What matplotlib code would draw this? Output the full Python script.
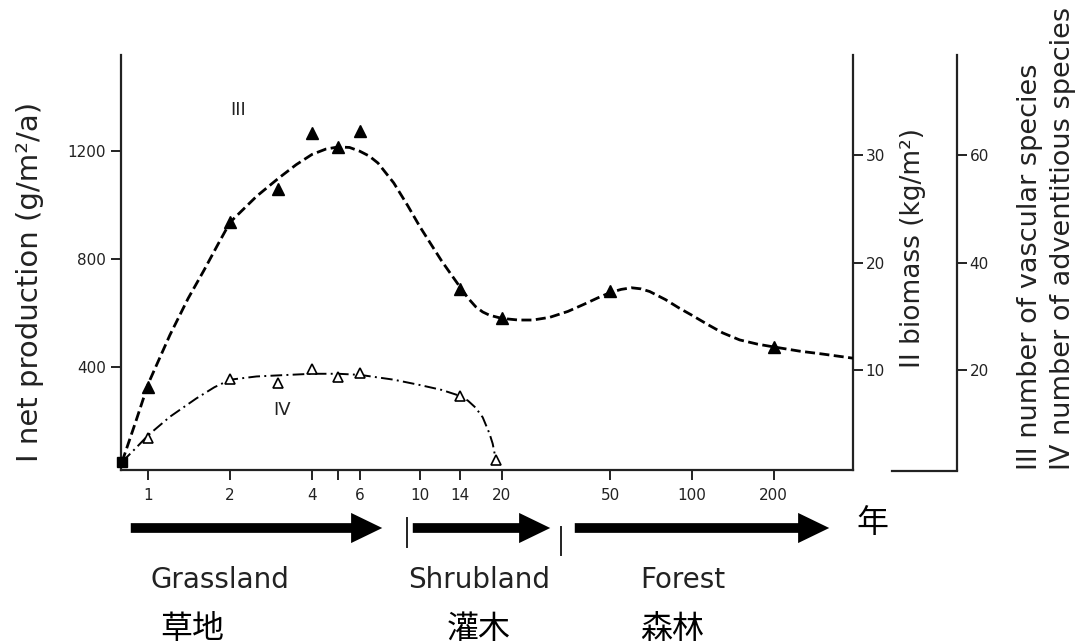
import matplotlib
matplotlib.use("Agg")
import matplotlib.pyplot as plt
from matplotlib.patches import FancyArrowPatch
from matplotlib.lines import Line2D

# Dati (anni su scala log, numero di specie)
years_iii = [1, 2, 3, 4, 5, 6, 14, 20, 50, 200]
species_iii = [16.8, 47.5, 53.7, 64.1, 61.5, 64.5, 35.1, 29.7, 34.7, 24.3]

years_iv = [1, 2, 3, 4, 5, 6, 14, 19]
species_iv = [7.4, 18.3, 17.6, 20.2, 18.7, 19.4, 15.2, 3.3]

start_year = [0.8]
start_species = [2.9]

# Curve tracciate a mano (lette punto per punto dal grafico)
curve_iii_x = [0.8, 0.9, 1.0, 1.2, 1.4, 1.6, 1.8, 2.0, 2.5, 3.0, 3.5, 4.0, 4.5,
               5.0, 5.5, 6.0, 6.5, 7.0, 8.0, 9.0, 10, 11, 12, 13, 14, 15, 16,
               17, 18, 20, 23, 26, 30, 35, 40, 45, 50, 55, 60, 65, 70, 80, 90,
               100, 115, 130, 150, 175, 200, 250, 300, 392]
curve_iii_y = [2.9, 10.5, 17.5, 26.5, 33.3, 38.5, 43.3, 47.5, 52.3, 55.6, 58.2,
               60.1, 61.1, 61.5, 61.4, 60.7, 59.8, 58.5, 54.8, 50.6, 46.6, 43.3,
               40.3, 37.8, 35.5, 33.4, 31.8, 30.8, 30.2, 29.6, 29.3, 29.3, 29.8,
               30.9, 32.2, 33.4, 34.4, 35.0, 35.3, 35.1, 34.6, 33.1, 31.5, 30.2,
               28.4, 26.9, 25.6, 24.8, 24.3, 23.5, 23.0, 22.2]
curve_iv_x = [0.8, 0.9, 1.0, 1.2, 1.5, 1.75, 2.0, 2.5, 3.0, 4.0, 5.0, 6.0, 8.0,
              10, 12, 14, 15, 16, 17, 18, 18.5, 19]
curve_iv_y = [2.9, 5.5, 7.9, 11.3, 14.7, 16.8, 18.2, 18.8, 19.0, 19.3, 19.3,
              19.1, 18.2, 17.2, 16.3, 15.2, 14.3, 13.0, 11.2, 8.2, 6.3, 3.3]

x_ticks = [1, 2, 4, 5, 6, 10, 14, 20, 50, 100, 200]
x_labels = ["1", "2", "4", "", "6", "10", "14", "20", "50", "100", "200"]
prod_ticks = [400, 800, 1200]
biomass_ticks = [10, 20, 30]
species_ticks = [20, 40, 60]

stages_en = ["Grassland", "Shrubland", "Forest"]
stages_cn = ["草地", "灌木", "森林"]

CJK = ["Noto Sans CJK SC", "DejaVu Sans"]
INK = "#222222"

# Dimensioni in pixel
W, H = 1091, 644
fig = plt.figure(figsize=(W / 100, H / 100), dpi=100)


def fx(px):
    return px / W


def fy(py):
    return 1 - py / H


ax = fig.add_axes([fx(121), fy(470), fx(853) - fx(121), fy(55) - fy(470)])
ax.set_xscale("log")
ax.set_xlim(0.793, 392)
ax.set_ylim(18.5, 1555)
ax.spines["top"].set_visible(False)
ax.spines["right"].set_visible(False)
for s in ("left", "bottom"):
    ax.spines[s].set_linewidth(1.6)
    ax.spines[s].set_color(INK)
ax.set_xticks(x_ticks)
ax.set_xticklabels(x_labels)
ax.xaxis.set_minor_locator(matplotlib.ticker.NullLocator())
ax.set_yticks(prod_ticks)
ax.tick_params(direction="out", length=7, width=1.4, labelsize=11, colors=INK)
ax.tick_params(axis="x", pad=6)
ax.tick_params(axis="y", pad=4)
ax.set_ylabel("I net production (g/m²/a)", fontsize=21, color=INK)
ax.yaxis.set_label_coords((44 - 121) / 732, (470 - 282) / 415)

# Asse biomassa (destra)
ax_bio = ax.twinx()
ax_bio.set_ylim(0.70, 39.3)
for s in ("top", "left", "bottom"):
    ax_bio.spines[s].set_visible(False)
ax_bio.spines["right"].set_linewidth(1.6)
ax_bio.spines["right"].set_color(INK)
ax_bio.set_yticks(biomass_ticks)
ax_bio.tick_params(direction="out", length=7, width=1.4, labelsize=11, colors=INK, pad=2)
ax_bio.set_ylabel("II biomass (kg/m²)", fontsize=19, color=INK)
ax_bio.yaxis.set_label_coords((900 - 121) / 732, (470 - 248) / 415)

# Asse numero di specie
ax_sp = ax.twinx()
ax_sp.set_ylim(1.4, 78.6)
ax_sp.set_xlim(ax.get_xlim())
ax_sp.spines["right"].set_position(("axes", (957 - 121) / 732))
for s in ("top", "left", "bottom"):
    ax_sp.spines[s].set_visible(False)
ax_sp.spines["right"].set_linewidth(1.6)
ax_sp.spines["right"].set_color(INK)
ax_sp.set_yticks(species_ticks)
ax_sp.tick_params(direction="out", length=7, width=1.4, labelsize=11, colors=INK, pad=2)
fig.add_artist(Line2D([fx(892), fx(957)], [fy(471), fy(471)], color=INK, lw=1.6))

# Curve e punti
ax_sp.plot(curve_iii_x, curve_iii_y, color="black", lw=2.0, dashes=(3.6, 1.6))
ax_sp.plot(curve_iv_x, curve_iv_y, color="black", lw=1.4, dashes=(6, 2.2, 1, 2.2))
ax_sp.plot(years_iii, species_iii, "^", color="black", ms=8)
ax_sp.plot(years_iv, species_iv, "^", mfc="white", mec="black", mew=1.2, ms=7)
ax_sp.plot(start_year, start_species, "s", color="black", ms=7, clip_on=False)
ax_sp.text(2.14, 68.4, "III", fontsize=13, color=INK, ha="center", va="center")
ax_sp.text(3.1, 12.6, "IV", fontsize=13, color=INK, ha="center", va="center")

fig.text(fx(1030), fy(470), "III number of vascular species", rotation=90,
         ha="center", va="bottom", fontsize=19.5, color=INK)
fig.text(fx(1063), fy(470), "IV number of adventitious species", rotation=90,
         ha="center", va="bottom", fontsize=19.5, color=INK)

# Frecce delle fasi
for x0, x1 in [(128, 385), (410, 553), (572, 832)]:
    arr = FancyArrowPatch((fx(x0), fy(528)), (fx(x1), fy(528)),
                          transform=fig.transFigure,
                          arrowstyle="simple,head_width=1.55,head_length=1.6,tail_width=0.5",
                          mutation_scale=14, color="black", lw=0)
    fig.add_artist(arr)
for xb, y0, y1 in [(407, 518, 547), (561, 527, 555)]:
    fig.add_artist(Line2D([fx(xb), fx(xb)], [fy(y0), fy(y1)], color=INK, lw=1.4))

fig.text(fx(872), fy(523), "年", fontsize=23, family=CJK, ha="center", va="center")
for name, xl in zip(stages_en, [150, 408, 640]):
    fig.text(fx(xl), fy(580), name, fontsize=20, color=INK, ha="left", va="center")
for name, xl in zip(stages_cn, [160, 447, 640]):
    fig.text(fx(xl), fy(629), name, fontsize=23, family=CJK, ha="left", va="center")

fig.savefig("out.png", dpi=100)
